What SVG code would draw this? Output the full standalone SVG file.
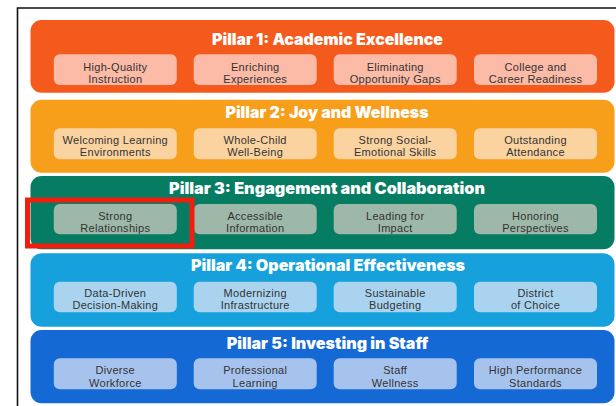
<svg xmlns="http://www.w3.org/2000/svg" width="616" height="406" viewBox="0 0 616 406">
<style>
.ttl{font-family:Inter,"Open Sans","DejaVu Sans",sans-serif;font-weight:900;font-size:15.5px;fill:#ffffff;text-anchor:middle}
.sub{font-family:"Liberation Sans",Arial,sans-serif;font-size:11px;letter-spacing:0.3px;fill:#333333;text-anchor:middle}
.p1{fill:#F45A1B}.b1{fill:#FBBBA6}
.p2{fill:#F79E1B}.b2{fill:#FBD3A0}
.p3{fill:#067D62}.b3{fill:#9DB8A8}
.p4{fill:#16A1DC}.b4{fill:#A9D3EF}
.p5{fill:#1569D4}.b5{fill:#A6C3EE}
</style>
<rect width="616" height="406" fill="#ffffff"/>
<path d="M17.5,406 V8 H616" fill="none" stroke="#111111" stroke-width="1.6"/>

<g id="pillar1">
<rect class="p1" x="30.5" y="20" width="584" height="72.7" rx="11"/>
<text class="ttl" x="327.5" y="44.5" textLength="231" lengthAdjust="spacingAndGlyphs">Pillar 1: Academic Excellence</text>
<g id="p1-high-quality"><rect class="b1" x="53.8" y="54.3" width="123" height="30.7" rx="6"/><text class="sub" x="115.3" y="70.7">High-Quality</text><text class="sub" x="115.3" y="83">Instruction</text></g>
<g id="p1-enriching"><rect class="b1" x="193.7" y="54.3" width="123" height="30.7" rx="6"/><text class="sub" x="255.2" y="70.7">Enriching</text><text class="sub" x="255.2" y="83">Experiences</text></g>
<g id="p1-eliminating"><rect class="b1" x="333.7" y="54.3" width="123" height="30.7" rx="6"/><text class="sub" x="395.2" y="70.7">Eliminating</text><text class="sub" x="395.2" y="83">Opportunity Gaps</text></g>
<g id="p1-college"><rect class="b1" x="474" y="54.3" width="123" height="30.7" rx="6"/><text class="sub" x="535.5" y="70.7">College and</text><text class="sub" x="535.5" y="83">Career Readiness</text></g>
</g>

<g id="pillar2">
<rect class="p2" x="30.5" y="99.7" width="584" height="73" rx="11"/>
<text class="ttl" x="327" y="117.6" textLength="203" lengthAdjust="spacingAndGlyphs">Pillar 2: Joy and Wellness</text>
<g id="p2-welcoming"><rect class="b2" x="53.8" y="128.3" width="123" height="31" rx="6"/><text class="sub" x="115.3" y="144">Welcoming Learning</text><text class="sub" x="115.3" y="156.3">Environments</text></g>
<g id="p2-whole-child"><rect class="b2" x="193.7" y="128.3" width="123" height="31" rx="6"/><text class="sub" x="255.2" y="144">Whole-Child</text><text class="sub" x="255.2" y="156.3">Well-Being</text></g>
<g id="p2-social"><rect class="b2" x="333.7" y="128.3" width="123" height="31" rx="6"/><text class="sub" x="395.2" y="144">Strong Social-</text><text class="sub" x="395.2" y="156.3">Emotional Skills</text></g>
<g id="p2-attendance"><rect class="b2" x="474" y="128.3" width="123" height="31" rx="6"/><text class="sub" x="535.5" y="144">Outstanding</text><text class="sub" x="535.5" y="156.3">Attendance</text></g>
</g>

<g id="pillar3">
<rect class="p3" x="30.5" y="176" width="584" height="73.3" rx="11"/>
<text class="ttl" x="327" y="193.6" textLength="316" lengthAdjust="spacingAndGlyphs">Pillar 3: Engagement and Collaboration</text>
<g id="p3-relationships"><rect class="b3" x="53.8" y="204" width="123" height="30.3" rx="6"/><text class="sub" x="115.3" y="220">Strong</text><text class="sub" x="115.3" y="232.3">Relationships</text></g>
<g id="p3-accessible"><rect class="b3" x="193.7" y="204" width="123" height="30.3" rx="6"/><text class="sub" x="255.2" y="220">Accessible</text><text class="sub" x="255.2" y="232.3">Information</text></g>
<g id="p3-leading"><rect class="b3" x="333.7" y="204" width="123" height="30.3" rx="6"/><text class="sub" x="395.2" y="220">Leading for</text><text class="sub" x="395.2" y="232.3">Impact</text></g>
<g id="p3-honoring"><rect class="b3" x="474" y="204" width="123" height="30.3" rx="6"/><text class="sub" x="535.5" y="220">Honoring</text><text class="sub" x="535.5" y="232.3">Perspectives</text></g>
</g>

<g id="pillar4">
<rect class="p4" x="30.5" y="253.3" width="584" height="73.4" rx="11"/>
<text class="ttl" x="328" y="271.3" textLength="274" lengthAdjust="spacingAndGlyphs">Pillar 4: Operational Effectiveness</text>
<g id="p4-data"><rect class="b4" x="53.8" y="281.7" width="123" height="30.6" rx="6"/><text class="sub" x="115.3" y="296.7">Data-Driven</text><text class="sub" x="115.3" y="309">Decision-Making</text></g>
<g id="p4-infra"><rect class="b4" x="193.7" y="281.7" width="123" height="30.6" rx="6"/><text class="sub" x="255.2" y="296.7">Modernizing</text><text class="sub" x="255.2" y="309">Infrastructure</text></g>
<g id="p4-budget"><rect class="b4" x="333.7" y="281.7" width="123" height="30.6" rx="6"/><text class="sub" x="395.2" y="296.7">Sustainable</text><text class="sub" x="395.2" y="309">Budgeting</text></g>
<g id="p4-choice"><rect class="b4" x="474" y="281.7" width="123" height="30.6" rx="6"/><text class="sub" x="535.5" y="296.7">District</text><text class="sub" x="535.5" y="309">of Choice</text></g>
</g>

<g id="pillar5">
<rect class="p5" x="30.5" y="330" width="584" height="73.3" rx="11"/>
<text class="ttl" x="327.5" y="348.6" textLength="201.6" lengthAdjust="spacingAndGlyphs">Pillar 5: Investing in Staff</text>
<g id="p5-diverse"><rect class="b5" x="53.8" y="358.3" width="123" height="31" rx="6"/><text class="sub" x="115.3" y="374">Diverse</text><text class="sub" x="115.3" y="386.7">Workforce</text></g>
<g id="p5-learning"><rect class="b5" x="193.7" y="358.3" width="123" height="31" rx="6"/><text class="sub" x="255.2" y="374">Professional</text><text class="sub" x="255.2" y="386.7">Learning</text></g>
<g id="p5-wellness"><rect class="b5" x="333.7" y="358.3" width="123" height="31" rx="6"/><text class="sub" x="395.2" y="374">Staff</text><text class="sub" x="395.2" y="386.7">Wellness</text></g>
<g id="p5-standards"><rect class="b5" x="474" y="358.3" width="123" height="31" rx="6"/><text class="sub" x="535.5" y="374">High Performance</text><text class="sub" x="535.5" y="386.7">Standards</text></g>
</g>

<g id="connectors"></g>

<g id="highlight">
<rect x="27.5" y="200" width="164.5" height="46" fill="none" stroke="#F01E0E" stroke-width="5"/>
</g>
</svg>
